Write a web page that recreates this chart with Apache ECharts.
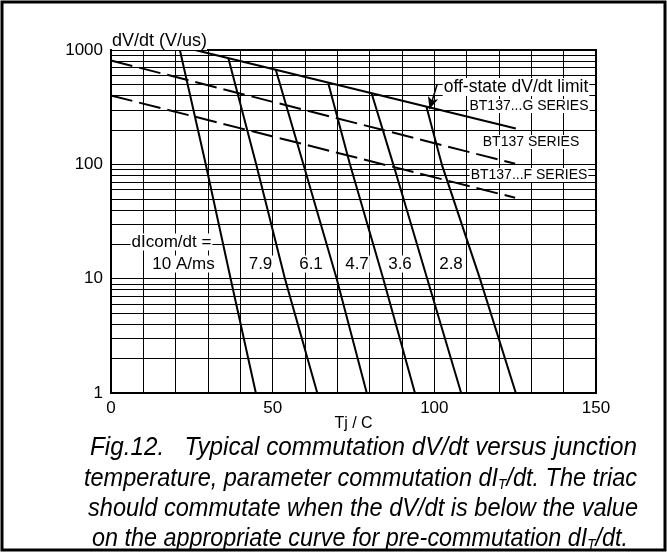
<!DOCTYPE html>
<html><head><meta charset="utf-8">
<script src="https://cdn.jsdelivr.net/npm/echarts@6/dist/echarts.min.js"></script>
<style>html,body{margin:0;padding:0;background:#fff}#c{width:667px;height:552px}</style>
</head><body><div id="c"></div>
<script>
// ---- data ----
const xTickLabels = [0, 50, 100, 150];
const yTickLabels = [1, 10, 100, 1000];
const minorGrid = [2,3,4,5,6,7,8,9,20,30,40,50,60,70,80,90,200,300,400,500,600,700,800,900];
const offStateG = [[26, 1000], [125.2, 206]];          // off-state dV/dt limit, BT137...G SERIES
const seriesBT137 = [[0, 810], [125, 101]];            // BT137 SERIES
const seriesBT137F = [[0, 400], [125, 51]];            // BT137...F SERIES
const rate10 = [[21.3, 1000], [29.3, 100], [37.0, 10], [44.8, 1]];
const rate79 = [[36.3, 846], [44.9, 100], [53.8, 10], [63.8, 1]];
const rate61 = [[50.9, 682], [59.5, 100], [69.8, 10], [79.1, 1]];
const rate47 = [[67.2, 511], [73.9, 100], [84.2, 10], [94.0, 1]];
const rate36 = [[80.6, 418], [87.3, 100], [97.8, 10], [108.3, 1]];
const rate28 = [[97.6, 315], [102.3, 100], [114.1, 10], [125.2, 1]];
const arrowPts = [[100.9, 501], [98.5, 304]];

const chart = echarts.init(document.getElementById('c'), null, {renderer: 'canvas'});
const F = '"Liberation Sans", Arial, sans-serif';
const CF = '"Liberation Sans", Arial, sans-serif';

function curve(data, dashed) {
  return {
    type: 'line', data: data, symbol: 'none', showSymbol: false, silent: true, z: 5,
    lineStyle: {color: '#000', width: 2, type: dashed ? [22, 7] : 'solid'},
    emphasis: {disabled: true}
  };
}

function txt(text, x, y, size, opts) {
  return {
    type: 'text', x: x, y: y, z: 50,
    style: Object.assign({
      text: text, fontFamily: F, fontSize: size, fill: '#000',
      align: 'center', verticalAlign: 'middle',
      backgroundColor: '#fff', padding: [0, 1]
    }, opts || {})
  };
}

// caption: each line is [main, subscript, main] parts
const captionParts = [
  ['Fig.12.   Typical commutation dV/dt versus junction', '', ''],
  ['temperature, parameter commutation dI', 'T', '/dt. The triac'],
  ['should commutate when the dV/dt is below the value', '', ''],
  ['on the appropriate curve for pre-commutation dI', 'T', '/dt.']
];
const captionY = [448, 479, 509, 539];
const captionLeft = [90, 84, 88, 92];
const captionRight = [637, 637, 638, 628];
const mctx = document.createElement('canvas').getContext('2d');
function mw(s, size) { mctx.font = 'italic ' + size + 'px "Liberation Sans"'; return mctx.measureText(s).width; }

const captionGraphics = captionParts.map((p, i) => {
  const w = mw(p[0], 26) + (p[1] ? mw(p[1], 15) : 0) + (p[2] ? mw(p[2], 26) : 0);
  const target = captionRight[i] - captionLeft[i];
  let t = '{m|' + p[0] + '}';
  if (p[1]) t += '{sub|' + p[1] + '}{m|' + p[2] + '}';
  return {
    type: 'text', x: captionLeft[i], y: captionY[i], z: 50, scaleX: target / w,
    style: {
      text: t, fontFamily: CF, fontSize: 26, fontStyle: 'italic', fill: '#000',
      align: 'left', verticalAlign: 'middle',
      rich: {
        m: {fontFamily: CF, fontSize: 26, fontStyle: 'italic', fill: '#000'},
        sub: {fontFamily: CF, fontSize: 15, fontStyle: 'italic', fill: '#000', verticalAlign: 'bottom', padding: [12, 0, 0, 0]}
      }
    }
  };
});

const option = {
  animation: false,
  backgroundColor: '#fff',
  grid: {left: 111, top: 50, right: 71, bottom: 159, show: true, borderColor: '#000', borderWidth: 2, backgroundColor: 'transparent', z: 10},
  xAxis: {
    type: 'value', min: 0, max: 150, interval: 10,
    name: 'Tj / C', nameLocation: 'middle', nameGap: 23, nameMoveOverlap: false,
    nameTextStyle: {fontFamily: F, fontSize: 16, color: '#000'},
    axisLine: {show: false}, axisTick: {show: false},
    axisLabel: {fontFamily: F, fontSize: 17, color: '#000', margin: 7,
      formatter: v => xTickLabels.indexOf(v) >= 0 ? String(v) : ''},
    splitLine: {show: true, lineStyle: {color: '#000', width: 1}}
  },
  yAxis: {
    type: 'log', logBase: 10, min: 1, max: 1000,
    axisLine: {show: false}, axisTick: {show: false},
    axisLabel: {fontFamily: F, fontSize: 17, color: '#000', margin: 8,
      formatter: v => yTickLabels.indexOf(Math.round(v)) >= 0 ? String(Math.round(v)) : ''},
    splitLine: {show: true, lineStyle: {color: '#000', width: 1}}
  },
  series: [
    {
      type: 'line', data: [[0, 1]], symbol: 'none', silent: true, z: 2,
      lineStyle: {opacity: 0},
      markLine: {
        silent: true, symbol: ['none', 'none'], label: {show: false}, animation: false,
        lineStyle: {color: '#000', width: 1, type: 'solid'},
        emphasis: {disabled: true},
        data: minorGrid.map(v => ({yAxis: v}))
      }
    },
    curve(offStateG, false),
    curve(seriesBT137, true),
    curve(seriesBT137F, true),
    curve(rate10, false),
    curve(rate79, false),
    curve(rate61, false),
    curve(rate47, false),
    curve(rate36, false),
    curve(rate28, false),
    {
      type: 'line', data: [], silent: true, z: 60,
      markLine: {
        silent: true, symbol: ['none', 'arrow'], symbolSize: [8, 12], label: {show: false}, animation: false,
        lineStyle: {color: '#000', width: 1.5, type: 'solid'},
        emphasis: {disabled: true},
        data: [[{coord: arrowPts[0]}, {coord: arrowPts[1]}]]
      }
    }
  ],
  graphic: [
    {type: 'rect', z: 100, shape: {x: 2, y: 2, width: 663, height: 548}, style: {fill: 'none', stroke: '#000', lineWidth: 3}},
    txt('dV/dt (V/us)', 112, 41, 18, {align: 'left', padding: [0, 0]}),
    txt('off-state dV/dt limit', 516, 87, 17.5),
    txt('BT137...G SERIES', 529, 106, 14),
    txt('BT137 SERIES', 531, 142, 14),
    txt('BT137...F SERIES', 529, 175, 14),
    txt('dIcom/dt =', 171.5, 242, 17),
    txt('10 A/ms', 183.5, 264, 17),
    txt('7.9', 260.5, 264, 17),
    txt('6.1', 311, 264, 17),
    txt('4.7', 357, 264, 17),
    txt('3.6', 400, 264, 17),
    txt('2.8', 451, 264, 17)
  ].concat(captionGraphics)
};
chart.setOption(option);
</script>
</body></html>
